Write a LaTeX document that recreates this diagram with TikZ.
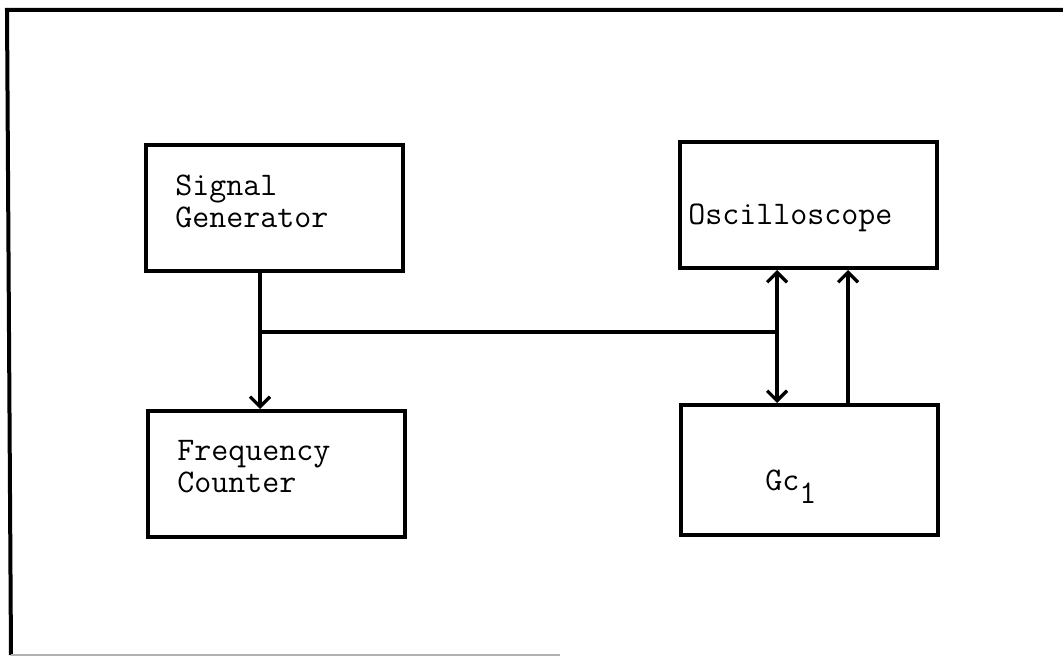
\documentclass[tikz,border=0pt]{standalone}
\usepackage{fontspec}
\usetikzlibrary{arrows.meta}
\tikzset{
  block/.style={draw, line width=2pt, minimum width=128.5pt, minimum height=63pt, inner sep=0pt},
  blocktext/.style={font=\ttfamily\fontsize{16.5}{16}\selectfont, align=left, inner sep=0pt},
  wire/.style={line width=1.6pt}
}
\begin{document}
\begin{tikzpicture}[x=0.5pt, y=-0.5pt, >={Straight Barb[length=5pt,width=10pt]}]
    \useasboundingbox (0,0) rectangle (1063,657);
    \draw[line width=2pt] (1063,10) -- (7,10) -- (11,655);
    \draw[gray!60, line width=1.2pt] (11,655) -- (560,655);

    \node[block] (siggen) at (274,208) {};
    \node[block] (freqcnt) at (276,474) {};
    \node[block] (scope) at (808,205) {};
    \node[block, minimum height=65pt] (gc) at (809,470) {};

    \node[blocktext, anchor=west] (siggenlbl) at (175,201) {Signal\\Generator};
    \node[blocktext, anchor=west] (freqcntlbl) at (177,467) {Frequency\\Counter};
    \node[blocktext, anchor=base west] (scopelbl) at (688,225) {Oscilloscope};
    \node[blocktext, anchor=base west] (gclbl) at (765,490) {Gc\raisebox{-6.5pt}{1}};

    \coordinate (tap) at (260,332);
    \coordinate (join) at (777,332);
    \coordinate (ret) at (848,332);

    \draw[wire, ->] (siggen.south -| tap) -- (freqcnt.north -| tap);
    \draw[wire] (tap) -- (join);
    \draw[wire, <->] (scope.south -| join) -- (gc.north -| join);
    \draw[wire, ->] (gc.north -| ret) -- (scope.south -| ret);
\end{tikzpicture}
\end{document}
